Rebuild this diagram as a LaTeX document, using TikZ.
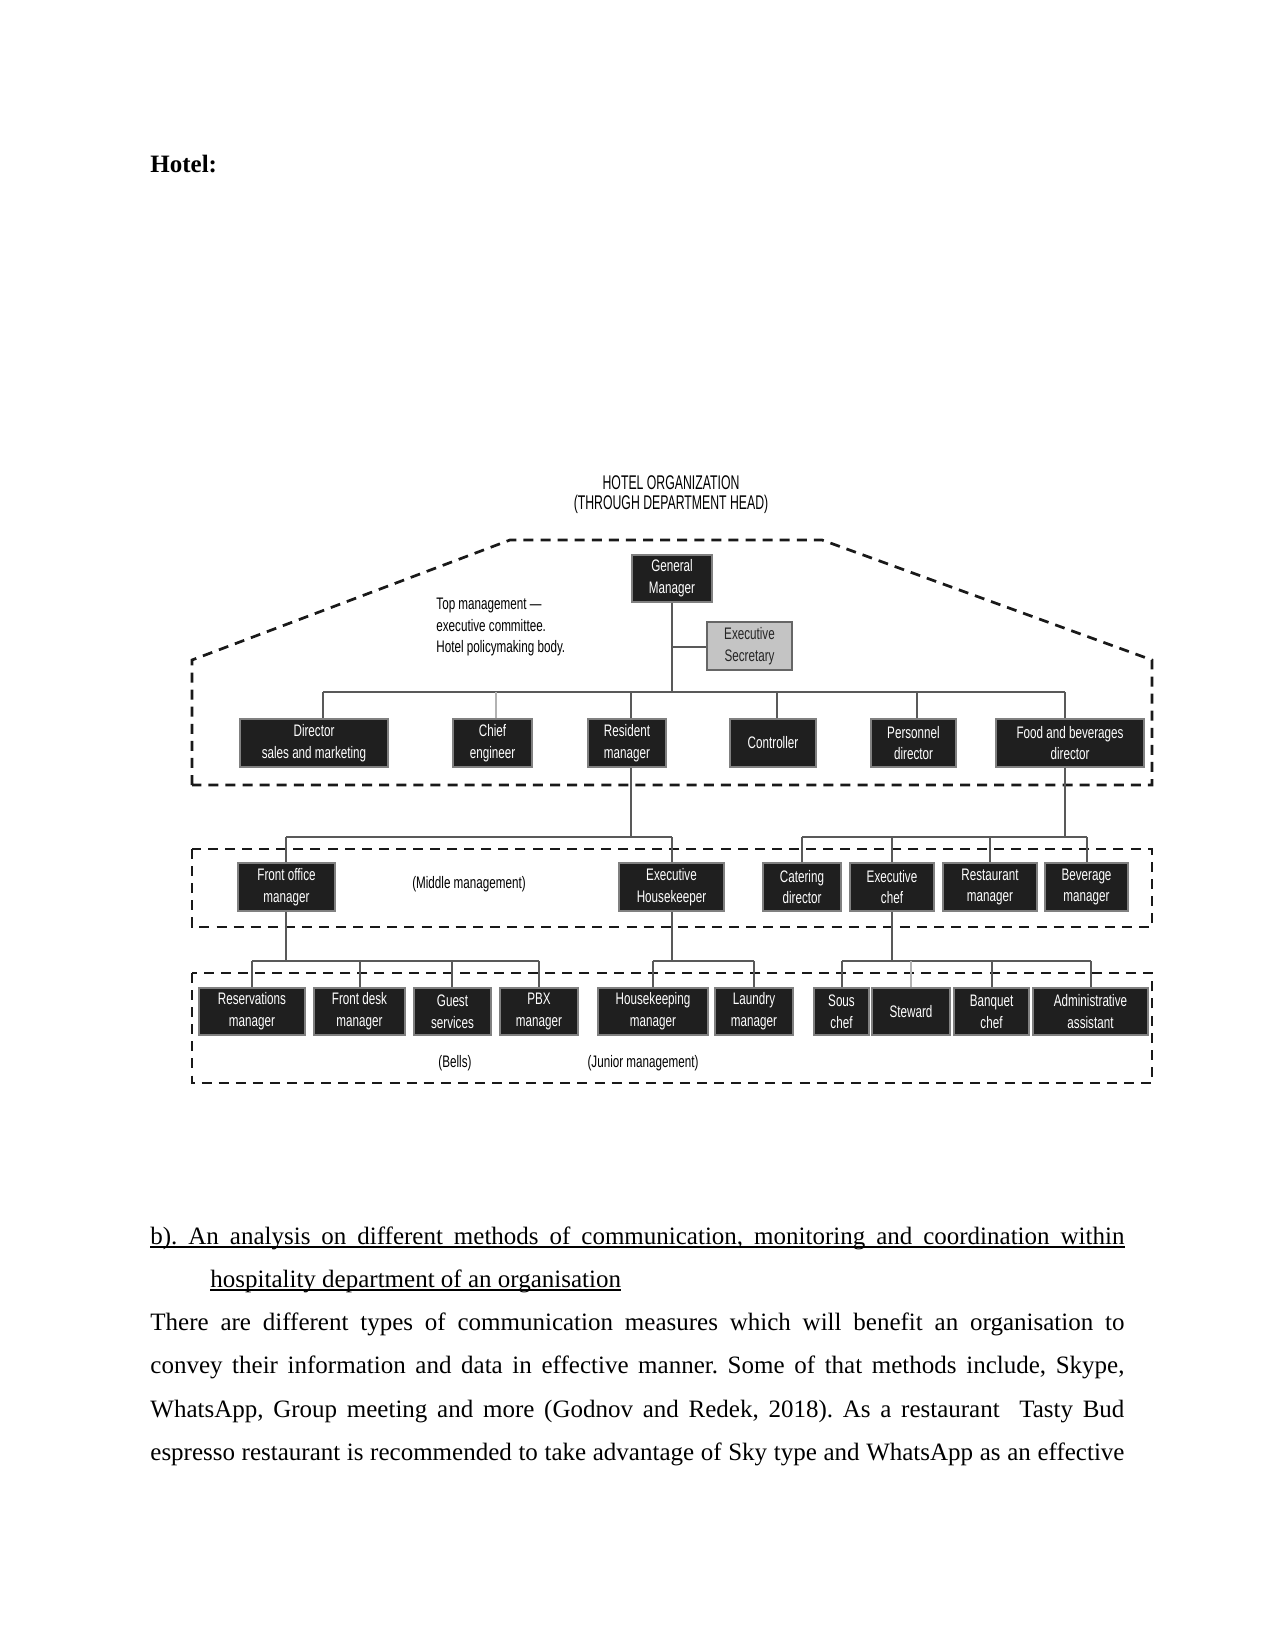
\documentclass[tikz,border=0pt]{standalone}
\usepackage{fontspec}
\setmainfont{Liberation Serif}
\newfontfamily\cond[FakeStretch=0.70]{Liberation Sans}
\newfontfamily\condt[FakeStretch=0.62]{Liberation Sans}
\newcommand\bx[7][orgbox]{\node[#1, minimum width={(#4-#3)*0.48pt}, minimum height={(#6-#5)*0.48pt}] (#2) at ({(#3+#4)/2},{(#5+#6)/2}) {#7};}
\frenchspacing
\begin{document}
\begin{tikzpicture}[x=0.48pt,y=-0.48pt,
  orgbox/.style={draw=black!50, fill=black!88, text=white, font=\cond\fontsize{8}{10.5}\selectfont, align=center, inner sep=0pt, line width=0.5pt},
  graybox/.style={orgbox, fill=black!23, draw=black!60, text=black!85},
  conn/.style={draw=black!65, line width=0.6pt},
  lightconn/.style={draw=black!30, line width=0.6pt},
  tier/.style={dash pattern=on 4.8pt off 3.4pt, line width=1.3pt, draw=black!90},
  lbl/.style={font=\cond\fontsize{8}{10.5}\selectfont, inner sep=0pt},
  ttl/.style={font=\condt\fontsize{9.5}{10}\selectfont, inner sep=0pt},
  body/.style={font=\fontsize{12}{14}\selectfont, anchor=base west, inner sep=0pt},
  uline/.style={line width=0.7pt}]
\useasboundingbox (0,0) rectangle (1275,1650);
\fill[white] (0,0) rectangle (1275,1650);

% heading
\node[body, font=\bfseries\fontsize{12}{14}\selectfont] (hotel) at (150,173) {Hotel:};

% title
\node[ttl] (t1) at (671,483) {HOTEL ORGANIZATION};
\node[ttl] (t2) at (671,504) {(THROUGH DEPARTMENT HEAD)};

% tier outlines
\draw[tier] (192,785) -- (192,660) -- (510,540) -- (822,540) -- (1152,660) -- (1152,785) -- cycle;
\draw[tier] (192,849) rectangle (1152,927);
\draw[tier] (192,973) rectangle (1152,1083);

% labels
\node[lbl, anchor=west, align=left] (toplbl) at (436,627) {Top management —\\executive committee.\\Hotel policymaking body.};
\node[lbl] (midlbl) at (469,884) {(Middle management)};
\node[lbl] (bells) at (455,1063) {(Bells)};
\node[lbl] (junlbl) at (643,1063) {(Junior management)};

% top level
\bx{gm}{632}{712}{555}{602}{General\\Manager}
\bx[graybox]{sec}{707}{792}{622}{670}{Executive\\Secretary}
\bx{dir}{240}{388}{719}{767}{Director\\sales and marketing}
\bx{chief}{453}{532}{719}{767}{Chief\\engineer}
\bx{res}{588}{666}{719}{767}{Resident\\manager}
\bx{ctrl}{730}{816}{719}{767}{Controller}
\bx{pers}{871}{956}{719}{767}{Personnel\\director}
\bx{fb}{996}{1144}{719}{767}{Food and beverages\\director}

% middle level
\bx{fo}{238}{335}{863}{911}{Front office\\manager}
\bx{eh}{619}{724}{863}{911}{Executive\\Housekeeper}
\bx{cat}{763}{841}{863}{911}{Catering\\director}
\bx{ec}{850}{934}{863}{911}{Executive\\chef}
\bx{rm}{943}{1037}{863}{911}{Restaurant\\manager}
\bx{bm}{1045}{1128}{863}{911}{Beverage\\manager}

% junior level
\bx{resv}{199}{305}{988}{1035}{Reservations\\manager}
\bx{fd}{314}{405}{988}{1035}{Front desk\\manager}
\bx{gs}{414}{491}{988}{1035}{Guest\\services}
\bx{pbx}{500}{578}{988}{1035}{PBX\\manager}
\bx{hk}{598}{708}{988}{1035}{Housekeeping\\manager}
\bx{ldy}{715}{793}{988}{1035}{Laundry\\manager}
\bx{sous}{814}{869}{988}{1035}{Sous\\chef}
\bx{stew}{872}{950}{988}{1035}{Steward}
\bx{banq}{954}{1029}{988}{1035}{Banquet\\chef}
\bx{admin}{1033}{1148}{988}{1035}{Administrative\\assistant}

% connectors: top
\coordinate (gmj) at (672,692);
\coordinate (secj) at (672,647);
\coordinate (b1) at (323,692);
\coordinate (b2) at (496,692);
\coordinate (b3) at (631,692);
\coordinate (b4) at (777,692);
\coordinate (b5) at (917,692);
\coordinate (b6) at (1065,692);
\draw[conn] (gm.south) -- (gmj);
\draw[conn] (secj) -- (sec.west |- secj);
\draw[conn] (b1) -- (b6);
\draw[conn] (b1) -- (b1 |- dir.north);
\draw[lightconn] (b2) -- (b2 |- chief.north);
\draw[conn] (b3) -- (b3 |- res.north);
\draw[conn] (b4) -- (b4 |- ctrl.north);
\draw[conn] (b5) -- (b5 |- pers.north);
\draw[conn] (b6) -- (b6 |- fb.north);

% resident manager branch
\coordinate (rj) at (631,837);
\coordinate (r1) at (286,837);
\coordinate (r2) at (672,837);
\draw[conn] (rj |- res.south) -- (rj);
\draw[conn] (r1) -- (r2);
\draw[conn] (r1) -- (r1 |- fo.north);
\draw[conn] (r2) -- (r2 |- eh.north);

% food and beverages branch
\coordinate (fj) at (1065,837);
\coordinate (f1) at (802,837);
\coordinate (f2) at (892,837);
\coordinate (f3) at (990,837);
\coordinate (f4) at (1087,837);
\draw[conn] (fj |- fb.south) -- (fj);
\draw[conn] (f1) -- (f4);
\draw[conn] (f1) -- (f1 |- cat.north);
\draw[conn] (f2) -- (f2 |- ec.north);
\draw[conn] (f3) -- (f3 |- rm.north);
\draw[conn] (f4) -- (f4 |- bm.north);

% front office branch
\coordinate (oj) at (286,961);
\coordinate (o1) at (252,961);
\coordinate (o2) at (360,961);
\coordinate (o3) at (452,961);
\coordinate (o4) at (539,961);
\draw[conn] (oj |- fo.south) -- (oj);
\draw[conn] (o1) -- (o4);
\draw[conn] (o1) -- (o1 |- resv.north);
\draw[conn] (o2) -- (o2 |- fd.north);
\draw[conn] (o3) -- (o3 |- gs.north);
\draw[conn] (o4) -- (o4 |- pbx.north);

% housekeeper branch
\coordinate (hj) at (672,961);
\coordinate (h1) at (653,961);
\coordinate (h2) at (754,961);
\draw[conn] (hj |- eh.south) -- (hj);
\draw[conn] (h1) -- (h2);
\draw[conn] (h1) -- (h1 |- hk.north);
\draw[conn] (h2) -- (h2 |- ldy.north);

% executive chef branch
\coordinate (cj) at (892,961);
\coordinate (c1) at (842,961);
\coordinate (c2) at (911,961);
\coordinate (c3) at (992,961);
\coordinate (c4) at (1091,961);
\draw[conn] (cj |- ec.south) -- (cj);
\draw[conn] (c1) -- (c4);
\draw[conn] (c1) -- (c1 |- sous.north);
\draw[lightconn] (c2) -- (c2 |- stew.north);
\draw[conn] (c3) -- (c3 |- banq.north);
\draw[conn] (c4) -- (c4 |- admin.north);

% body text
\node[body] (l1) at (150,1244) {\makebox[467.52pt][s]{b). An analysis on different methods of communication, monitoring and coordination within}};
\draw[uline] ([yshift=-1.5pt]l1.base west) -- ([yshift=-1.5pt]l1.base east);
\node[body] (l2) at (210,1287) {hospitality department of an organisation};
\draw[uline] ([yshift=-1.5pt]l2.base west) -- ([yshift=-1.5pt]l2.base east);
\node[body] (l3) at (150,1330) {\makebox[467.52pt][s]{There are different types of communication measures which will benefit an organisation to}};
\node[body] (l4) at (150,1373) {\makebox[467.52pt][s]{convey their information and data in effective manner. Some of that methods include, Skype,}};
\node[body] (l5) at (150,1417) {\makebox[467.52pt][s]{WhatsApp, Group meeting and more (Godnov and Redek, 2018). As a restaurant\ \ Tasty Bud}};
\node[body] (l6) at (150,1460) {\makebox[467.52pt][s]{espresso restaurant is recommended to take advantage of Sky type and WhatsApp as an effective}};
\end{tikzpicture}
\end{document}
